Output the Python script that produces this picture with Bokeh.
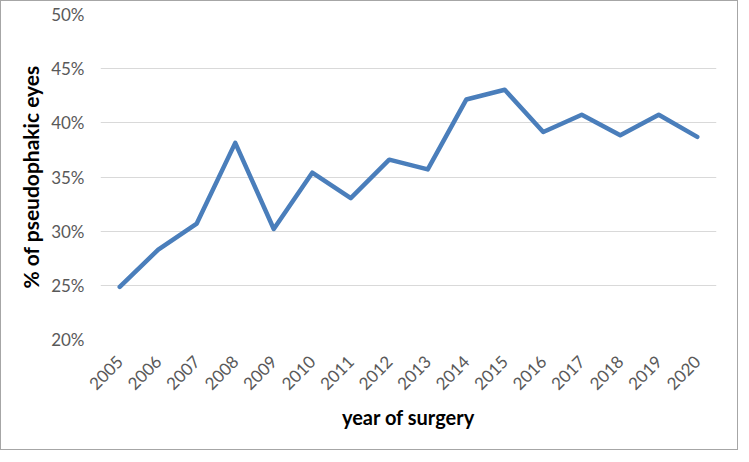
import math
from bokeh.plotting import figure
from bokeh.models import Range1d, FactorRange, FixedTicker, NumeralTickFormatter, ColumnDataSource
from bokeh.embed import file_html
from bokeh.resources import INLINE

# ---- data ----
years = ["2005", "2006", "2007", "2008", "2009", "2010", "2011", "2012",
         "2013", "2014", "2015", "2016", "2017", "2018", "2019", "2020"]
share = [0.2485, 0.283, 0.307, 0.3815, 0.302, 0.354, 0.3305, 0.366,
         0.357, 0.4215, 0.4305, 0.3915, 0.4075, 0.3885, 0.4075, 0.387]
y_ticks = [0.20, 0.25, 0.30, 0.35, 0.40, 0.45, 0.50]

x_title = "year of surgery"
y_title = "% of pseudophakic eyes"

src = ColumnDataSource(data=dict(year=years, share=share))

p = figure(
    width=738, height=450,
    x_range=FactorRange(*years, range_padding=0),
    y_range=Range1d(0.20, 0.50),
    output_backend="svg", toolbar_location=None,
    min_border_left=99, min_border_right=23,
    min_border_top=13, min_border_bottom=112,
)
p.styles = {"border": "1px solid #a6a6a6"}
p.background_fill_color = "white"
p.border_fill_color = "white"
p.outline_line_color = None

p.line(x="year", y="share", source=src, line_color="#4A7EBB", line_width=4.5,
       line_join="round", line_cap="round")

# y axis
ya = p.yaxis[0]
ya.ticker = FixedTicker(ticks=y_ticks)
ya.formatter = NumeralTickFormatter(format="0%")
ya.axis_line_color = None
ya.major_tick_line_color = None
ya.minor_tick_line_color = None
ya.major_tick_out = 0
ya.major_label_standoff = 16
ya.major_label_text_font = "Lato"
ya.major_label_text_font_size = "17px"
ya.major_label_text_color = "#595959"
ya.axis_label = y_title
ya.axis_label_text_font = "Lato"
ya.axis_label_text_font_style = "bold"
ya.axis_label_text_font_size = "21px"
ya.axis_label_text_color = "black"
ya.axis_label_standoff = 5

# x axis
xa = p.xaxis[0]
xa.axis_line_color = None
xa.major_tick_line_color = None
xa.minor_tick_line_color = None
xa.major_tick_out = 0
xa.major_label_orientation = math.pi / 4
xa.major_label_standoff = 19
xa.major_label_text_font = "Lato"
xa.major_label_text_font_size = "17px"
xa.major_label_text_color = "#595959"
xa.axis_label = x_title
xa.axis_label_text_font = "Lato"
xa.axis_label_text_font_style = "bold"
xa.axis_label_text_font_size = "20px"
xa.axis_label_text_color = "black"
xa.axis_label_standoff = 6

p.xgrid.grid_line_color = None
p.ygrid.grid_line_color = "#D9D9D9"
p.ygrid.grid_line_width = 1

open("out.html", "w").write(file_html(p, INLINE))
